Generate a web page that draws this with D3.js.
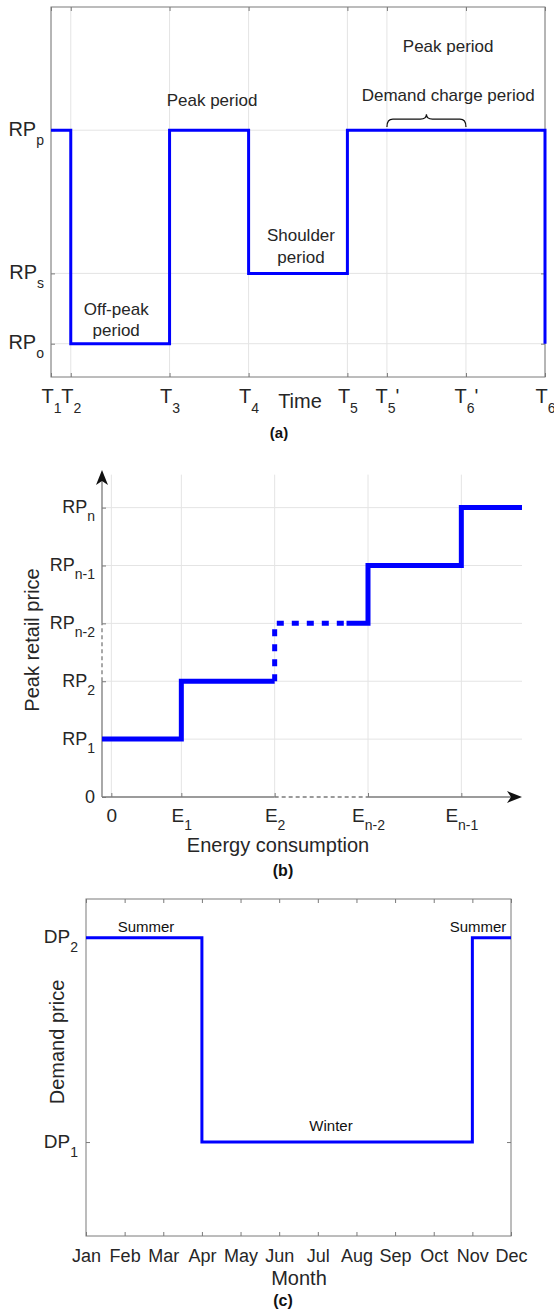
<!DOCTYPE html>
<html>
<head>
<meta charset="utf-8">
<script src="https://cdn.jsdelivr.net/npm/d3@7"></script>
<style>
  body { margin: 0; background: #fff; }
  svg { display: block; font-family: "Liberation Sans", Arial, sans-serif; }
</style>
</head>
<body>
<script>
// basic settings
const width = 554;
const height = 1313;
const AXIS = '#7a7a7a';
const GRID = '#e4e4e4';
const INK = '#262626';
const BLUE = '#0000ff';

// (a) time-of-use tariff
const touTicks = [0, 1, 6, 10, 15, 17, 21, 25];
const touTickLabels = [['T', '1'], ['T', '2'], ['T', '3'], ['T', '4'], ['T', '5'], ['T', '5', "'"], ['T', '6', "'"], ['T', '6']];
const rpLevels = [0.09, 0.28, 0.667];
const rpLabels = [['RP', 'o'], ['RP', 's'], ['RP', 'p']];
const touTime = [0, 1, 1, 6, 6, 10, 10, 15, 15, 25, 25];
const touPrice = [0.667, 0.667, 0.09, 0.09, 0.667, 0.667, 0.28, 0.28, 0.667, 0.667, 0.09];

// (b) block tariff
const eTicks = [0, 0.75, 1.75, 2.75, 3.75];
const eTickLabels = [['0'], ['E', '1'], ['E', '2'], ['E', 'n-2'], ['E', 'n-1']];
const blockLevels = [0, 1, 2, 3, 4, 5];
const blockLabels = [['0'], ['RP', '1'], ['RP', '2'], ['RP', 'n-2'], ['RP', 'n-1'], ['RP', 'n']];
const lowE = [-0.1, 0.75, 0.75, 1.75];
const lowP = [1, 1, 2, 2];
const gapE = [1.75, 1.75, 2.52];
const gapP = [2, 3, 3];
const highE = [2.52, 2.75, 2.75, 3.75, 3.75, 4.4];
const highP = [3, 3, 4, 4, 5, 5];

// (c) seasonal demand price
const months = ['Jan', 'Feb', 'Mar', 'Apr', 'May', 'Jun', 'Jul', 'Aug', 'Sep', 'Oct', 'Nov', 'Dec'];
const dpLevels = [1, 2];
const dpLabels = [['DP', '1'], ['DP', '2']];
const dpMonth = ['Jan', 'Apr', 'Apr', 'Nov', 'Nov', 'Dec'];
const dpValue = [2, 2, 1, 1, 2, 2];

const svg = d3.select('body')
  .append('svg')
  .attr('width', width)
  .attr('height', height);

// label with subscript (and optional prime)
function subLabel(sel, parts, size, subSize, subDy) {
  sel.text(null).attr('font-size', size).attr('fill', INK);
  sel.append('tspan').text(parts[0]);
  if (parts[1]) sel.append('tspan').attr('font-size', subSize).attr('dy', subDy).text(parts[1]);
  if (parts[2]) sel.append('tspan').attr('dy', -subDy).text(parts[2]);
}

function styleTicks(g, labels, size, subSize, subDy, tx, ty) {
  g.select('.domain').remove();
  g.selectAll('.tick line').attr('stroke', AXIS);
  g.selectAll('.tick text').each(function (d, i) {
    const t = d3.select(this).attr('dy', null).attr('x', tx).attr('y', ty);
    if (labels) subLabel(t, labels[i], size, subSize, subDy);
    else t.remove();
  });
}

function linePath(xs, ys, x, y) {
  return d3.line().x(d => x(d[0])).y(d => y(d[1]))(xs.map((v, i) => [v, ys[i]]));
}

// ---------- (a) ----------
const xA = d3.scaleLinear([0, 25], [51, 545]);
const yA = d3.scaleLinear([0, 1], [377, 7]);
const gA = svg.append('g');

gA.selectAll('line.vgrid').data(touTicks).join('line')
  .attr('x1', d => xA(d)).attr('x2', d => xA(d))
  .attr('y1', yA(0)).attr('y2', yA(1))
  .attr('stroke', GRID);
gA.selectAll('line.hgrid').data(rpLevels).join('line')
  .attr('x1', xA(0)).attr('x2', xA(25))
  .attr('y1', d => yA(d)).attr('y2', d => yA(d))
  .attr('stroke', GRID);

gA.append('g').attr('transform', `translate(0,${yA(0)})`)
  .call(d3.axisBottom(xA).tickValues(touTicks).tickSize(-4))
  .call(g => styleTicks(g, touTickLabels, 20, 14, 10, 0, 26))
  .selectAll('text').attr('font-family', null);
gA.append('g').attr('transform', `translate(0,${yA(1)})`)
  .call(d3.axisTop(xA).tickValues(touTicks).tickSize(-4))
  .call(g => styleTicks(g, null));
gA.append('g').attr('transform', `translate(${xA(0)},0)`)
  .call(d3.axisLeft(yA).tickValues(rpLevels).tickSize(-4))
  .call(g => styleTicks(g, rpLabels, 20, 14, 9, -7, 5));
gA.append('g').attr('transform', `translate(${xA(25)},0)`)
  .call(d3.axisRight(yA).tickValues(rpLevels).tickSize(-4))
  .call(g => styleTicks(g, null));

gA.append('rect')
  .attr('x', xA(0)).attr('y', yA(1))
  .attr('width', xA(25) - xA(0)).attr('height', yA(0) - yA(1))
  .attr('fill', 'none').attr('stroke', AXIS);

gA.append('path')
  .attr('d', linePath(touTime, touPrice, xA, yA))
  .attr('fill', 'none').attr('stroke', BLUE).attr('stroke-width', 3);

const noteA = gA.append('g').attr('font-size', 17).attr('fill', INK).attr('text-anchor', 'middle');
noteA.append('text').attr('x', xA(8.15)).attr('y', yA(0.732)).text('Peak period');
noteA.append('text').attr('x', xA(20.1)).attr('y', yA(0.878)).text('Peak period');
noteA.append('text').attr('x', xA(20.1)).attr('y', yA(0.746)).text('Demand charge period');
noteA.append('text').attr('x', xA(12.65)).attr('y', yA(0.368)).text('Shoulder');
noteA.append('text').attr('x', xA(12.65)).attr('y', yA(0.308)).text('period');
noteA.append('text').attr('x', xA(3.3)).attr('y', yA(0.168)).text('Off-peak');
noteA.append('text').attr('x', xA(3.3)).attr('y', yA(0.111)).text('period');

// curly brace over T5'..T6'
{
  const x0 = xA(17), x1 = xA(21), xm = (x0 + x1) / 2;
  const y0 = yA(0.676), y1 = yA(0.697), yt = yA(0.71);
  const p = d3.path();
  p.moveTo(x0, y0);
  p.quadraticCurveTo(x0, y1, x0 + 6, y1);
  p.lineTo(xm - 6, y1);
  p.quadraticCurveTo(xm, y1, xm, yt);
  p.quadraticCurveTo(xm, y1, xm + 6, y1);
  p.lineTo(x1 - 6, y1);
  p.quadraticCurveTo(x1, y1, x1, y0);
  gA.append('path').attr('d', p.toString())
    .attr('fill', 'none').attr('stroke', '#111').attr('stroke-width', 1.2);
}

gA.append('text').attr('x', 300).attr('y', 408).attr('text-anchor', 'middle')
  .attr('font-size', 20).attr('fill', INK).text('Time');
gA.append('text').attr('x', 279).attr('y', 438).attr('text-anchor', 'middle')
  .attr('font-size', 15).attr('font-weight', 'bold').attr('fill', '#111').text('(a)');

// ---------- (b) ----------
const xB = d3.scaleLinear([-0.1, 4.4], [102, 522]);
const yB = d3.scaleLinear([0, 5.65], [797, 470]);
const gB = svg.append('g');

gB.selectAll('line.vgrid').data(eTicks).join('line')
  .attr('x1', d => xB(d)).attr('x2', d => xB(d))
  .attr('y1', yB(0)).attr('y2', yB(5.57))
  .attr('stroke', GRID);
gB.selectAll('line.hgrid').data(blockLevels.slice(1)).join('line')
  .attr('x1', xB(-0.1)).attr('x2', xB(4.4))
  .attr('y1', d => yB(d)).attr('y2', d => yB(d))
  .attr('stroke', GRID);

gB.append('g').attr('transform', `translate(0,${yB(0)})`)
  .call(d3.axisBottom(xB).tickValues(eTicks).tickSize(-4))
  .call(g => styleTicks(g, eTickLabels, 19, 14, 8, 0, 25));
gB.append('g').attr('transform', `translate(${xB(-0.1)},0)`)
  .call(d3.axisLeft(yB).tickValues(blockLevels).tickSize(-4))
  .call(g => styleTicks(g, blockLabels, 18, 14, 8, -7, 5));

// axes with broken (dashed) parts
const axisSegs = [
  { x1: -0.1, y1: 0, x2: -0.1, y2: 2, dash: null },
  { x1: -0.1, y1: 2, x2: -0.1, y2: 3, dash: '4,3' },
  { x1: -0.1, y1: 3, x2: -0.1, y2: 5.6, dash: null },
  { x1: -0.1, y1: 0, x2: 1.75, y2: 0, dash: null },
  { x1: 1.75, y1: 0, x2: 2.75, y2: 0, dash: '4,3' },
  { x1: 2.75, y1: 0, x2: 4.35, y2: 0, dash: null }
];
gB.selectAll('line.ax').data(axisSegs).join('line')
  .attr('x1', d => xB(d.x1)).attr('x2', d => xB(d.x2))
  .attr('y1', d => yB(d.y1)).attr('y2', d => yB(d.y2))
  .attr('stroke', AXIS).attr('stroke-width', 1.3)
  .attr('stroke-dasharray', d => d.dash);

// arrow heads
{
  const ax = xB(-0.1), ay = yB(5.65);
  gB.append('path').attr('d', `M${ax},${ay} L${ax - 6},${ay + 15} L${ax},${ay + 11} L${ax + 6},${ay + 15} Z`).attr('fill', '#111');
  const bx = xB(4.4), by = yB(0);
  gB.append('path').attr('d', `M${bx},${by} L${bx - 15},${by - 6} L${bx - 11},${by} L${bx - 15},${by + 6} Z`).attr('fill', '#111');
}

gB.append('path').attr('d', linePath(lowE, lowP, xB, yB))
  .attr('fill', 'none').attr('stroke', BLUE).attr('stroke-width', 5);
gB.append('path').attr('d', linePath(gapE, gapP, xB, yB))
  .attr('fill', 'none').attr('stroke', BLUE).attr('stroke-width', 5)
  .attr('stroke-dasharray', '7,8');
gB.append('path').attr('d', linePath(highE, highP, xB, yB))
  .attr('fill', 'none').attr('stroke', BLUE).attr('stroke-width', 5);

gB.append('text').attr('transform', 'translate(39,640) rotate(-90)')
  .attr('text-anchor', 'middle').attr('font-size', 20).attr('fill', INK).text('Peak retail price');
gB.append('text').attr('x', 278).attr('y', 852).attr('text-anchor', 'middle')
  .attr('font-size', 20).attr('fill', INK).text('Energy consumption');
gB.append('text').attr('x', 283).attr('y', 876).attr('text-anchor', 'middle')
  .attr('font-size', 16).attr('font-weight', 'bold').attr('fill', '#111').text('(b)');

// ---------- (c) ----------
const xC = d3.scalePoint(months, [86, 511]);
const yC = d3.scaleLinear([0.54, 2.19], [1236, 899]);
const gC = svg.append('g');

gC.append('g').attr('transform', `translate(0,${yC(0.54)})`)
  .call(d3.axisBottom(xC).tickSize(-4))
  .call(g => styleTicks(g, months.map(m => [m]), 18, 13, 8, 0, 26));
gC.append('g').attr('transform', `translate(0,${yC(2.19)})`)
  .call(d3.axisTop(xC).tickSize(-4))
  .call(g => styleTicks(g, null));
gC.append('g').attr('transform', `translate(${xC('Jan')},0)`)
  .call(d3.axisLeft(yC).tickValues(dpLevels).tickSize(-4))
  .call(g => styleTicks(g, dpLabels, 19, 14, 9, -8, 5));
gC.append('g').attr('transform', `translate(${xC('Dec')},0)`)
  .call(d3.axisRight(yC).tickValues(dpLevels).tickSize(-4))
  .call(g => styleTicks(g, null));

gC.append('rect')
  .attr('x', xC('Jan')).attr('y', yC(2.19))
  .attr('width', xC('Dec') - xC('Jan')).attr('height', yC(0.54) - yC(2.19))
  .attr('fill', 'none').attr('stroke', AXIS);

gC.append('path').attr('d', linePath(dpMonth, dpValue, xC, yC))
  .attr('fill', 'none').attr('stroke', BLUE).attr('stroke-width', 3);

const noteC = gC.append('g').attr('font-size', 15).attr('fill', '#111').attr('text-anchor', 'middle');
noteC.append('text').attr('x', 146).attr('y', yC(2.03)).text('Summer');
noteC.append('text').attr('x', 478).attr('y', yC(2.03)).text('Summer');
noteC.append('text').attr('x', 331).attr('y', yC(1.054)).text('Winter');

gC.append('text').attr('transform', 'translate(64,1042) rotate(-90)')
  .attr('text-anchor', 'middle').attr('font-size', 20).attr('fill', INK).text('Demand price');
gC.append('text').attr('x', 299).attr('y', 1285).attr('text-anchor', 'middle')
  .attr('font-size', 20).attr('fill', INK).text('Month');
gC.append('text').attr('x', 283).attr('y', 1306).attr('text-anchor', 'middle')
  .attr('font-size', 16).attr('font-weight', 'bold').attr('fill', '#111').text('(c)');
</script>
</body>
</html>
